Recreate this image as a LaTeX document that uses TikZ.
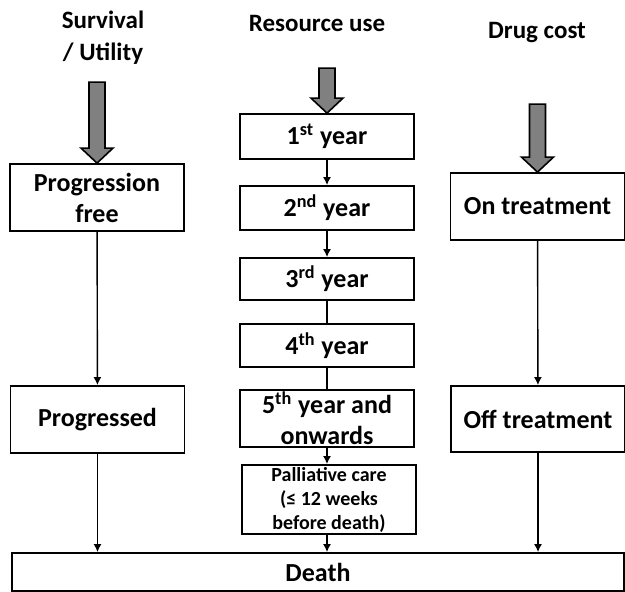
\documentclass[tikz,border=0pt]{standalone}
\usepackage{fontspec}
\setmainfont{Carlito}
\usetikzlibrary{arrows.meta}

\tikzset{
  pics/bigarrow/.style={code={
    \draw[line width=0.8pt, fill=gray] (0,0) -- (8pt,7.5pt) -- (4pt,7.5pt) -- (4pt,#1)
      -- (-4pt,#1) -- (-4pt,7.5pt) -- (-8pt,7.5pt) -- cycle;}},
  heading/.style={font=\bfseries\fontsize{12.5}{16}\selectfont, align=center},
  box/.style={draw, line width=0.9pt, align=center, inner sep=1pt,
    minimum width=87pt, font=\bfseries\fontsize{13}{15.5}\selectfont},
  flow/.style={line width=0.7pt, -{Latex[length=4pt,width=4pt]}},
  link/.style={line width=0.7pt}
}

\begin{document}
\begin{tikzpicture}[x=0.5pt, y=-0.5pt]
\useasboundingbox (0,0) rectangle (625,592);
% column headings
\node[heading] (hsurv) at (103,38) {Survival\\/ Utility};
\node[heading] (hres) at (317,23) {Resource use};
\node[heading] (hdrug) at (537,33) {Drug cost};
% survival / utility
\node[box, minimum height=33.5pt] (pf) at (97,197.5) {Progression\\free};
\node[box, minimum height=33.5pt] (prog) at (97.5,419.5) {Progressed};
% resource use
\node[box, minimum height=22.5pt] (yr1) at (327,136.5) {1\textsuperscript{st} year};
\node[box, minimum height=22pt] (yr2) at (327,208) {2\textsuperscript{nd} year};
\node[box, minimum height=21pt] (yr3) at (327,279) {3\textsuperscript{rd} year};
\node[box, minimum height=21.5pt] (yr4) at (327,345.5) {4\textsuperscript{th} year};
\node[box, minimum height=27.5pt] (yr5) at (327,418.5) {5\textsuperscript{th} year and\\onwards};
\node[box, minimum height=33.5pt, font=\bfseries\fontsize{10}{12}\selectfont] (pall) at (329,499.5)
  {Palliative care\\(≤ 12 weeks\\before death)};
% drug cost
\node[box, minimum height=33.5pt] (on) at (537.5,206.5) {On treatment};
\node[box, minimum height=33pt] (off) at (538,419) {Off treatment};
% death
\node[box, minimum width=306pt, minimum height=19pt] (death) at (318,572) {Death};
% big input arrows
\pic at (pf.north) {bigarrow=40.5pt};
\pic at (yr1.north) {bigarrow=22.5pt};
\pic at (on.north) {bigarrow=34pt};
% connectors
\draw[flow] (pf) -- (prog);
\draw[flow] (prog.south) -- (prog.south |- death.north);
\draw[flow] (yr1) -- (yr2);
\draw[flow] (yr2) -- (yr3);
\draw[link] (yr3) -- (yr4);
\draw[link] (yr4) -- (yr5);
\draw[flow] (yr5.south) -- (yr5.south |- pall.north);
\draw[flow] (yr5.south |- pall.south) -- (yr5.south |- death.north);
\draw[flow] (on) -- (off);
\draw[flow] (off.south) -- (off.south |- death.north);
\end{tikzpicture}
\end{document}
